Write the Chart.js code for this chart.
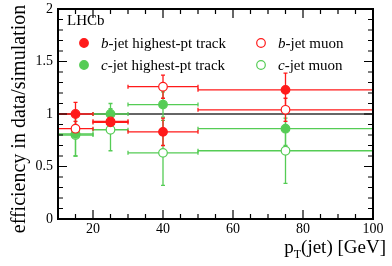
<!DOCTYPE html>
<html><head><meta charset="utf-8">
<script src="https://cdn.jsdelivr.net/npm/chart.js@4/dist/chart.umd.min.js"></script>
<style>html,body{margin:0;padding:0;background:#fff}#wrap{width:392px;height:266px}</style>
</head><body><div id="wrap"><canvas id="c" width="392" height="266"></canvas></div>
<script>
const xCenters = [15, 25, 40, 75];
const xLow = [10, 20, 30, 50];
const xHigh = [20, 30, 50, 100];
const bTrack = [1.00, 0.92, 0.83, 1.23];
const bTrackErr = [0.11, 0.03, 0.13, 0.16];
const cTrack = [0.81, 1.00, 1.09, 0.86];
const cTrackErr = [0.21, 0.10, 0.12, 0.16];
const bMuon = [0.86, 0.93, 1.26, 1.04];
const bMuonErr = [0.07, 0.05, 0.11, 0.11];
const cMuon = [0.80, 0.85, 0.63, 0.65];
const cMuonErr = [0.20, 0.20, 0.31, 0.31];
const yTicks = [0, 0.5, 1, 1.5, 2];
const yTickLabels = ['0', '0.5', '1', '1.5', '2'];
const xTicks = [20, 40, 60, 80, 100];
const xTickLabels = ['20', '40', '60', '80', '100'];

const RED = '#ff1a1a', GREEN = '#55cc55';
const SERIF = '"Liberation Serif","DejaVu Serif",serif';

function mk(label, vals, errs, color, filled, order) {
  return {
    label, errs, color,
    data: xCenters.map((x, i) => ({x, y: vals[i]})),
    pointRadius: 4.3, pointHoverRadius: 4.3,
    pointBackgroundColor: filled ? color : '#ffffff',
    pointBorderColor: color, pointBorderWidth: 1.2,
    showLine: false, order
  };
}
const datasets = [
  mk('cmu', cMuon, cMuonErr, GREEN, false, 4),
  mk('ctr', cTrack, cTrackErr, GREEN, true, 3),
  mk('bmu', bMuon, bMuonErr, RED, false, 2),
  mk('btr', bTrack, bTrackErr, RED, true, 1)
];

const plug = {
  id: 'deco',
  beforeDatasetsDraw(chart) {
    const ctx = chart.ctx, xs = chart.scales.x, ys = chart.scales.y;
    ctx.save();
    ctx.strokeStyle = '#333'; ctx.lineWidth = 1.4;
    ctx.beginPath(); ctx.moveTo(xs.left, ys.getPixelForValue(1)); ctx.lineTo(xs.right, ys.getPixelForValue(1)); ctx.stroke();
    chart.data.datasets.forEach(ds => {
      ctx.strokeStyle = ds.color; ctx.lineWidth = 1.3;
      ds.data.forEach((p, i) => {
        const px = xs.getPixelForValue(p.x), py = ys.getPixelForValue(p.y);
        const x1 = xs.getPixelForValue(xLow[i]), x2 = xs.getPixelForValue(xHigh[i]);
        const y1 = ys.getPixelForValue(p.y - ds.errs[i]), y2 = ys.getPixelForValue(p.y + ds.errs[i]);
        ctx.beginPath();
        ctx.moveTo(x1, py); ctx.lineTo(x2, py);
        ctx.moveTo(x1, py - 2); ctx.lineTo(x1, py + 2);
        ctx.moveTo(x2, py - 2); ctx.lineTo(x2, py + 2);
        ctx.moveTo(px, y1); ctx.lineTo(px, y2);
        ctx.moveTo(px - 2, y1); ctx.lineTo(px + 2, y1);
        ctx.moveTo(px - 2, y2); ctx.lineTo(px + 2, y2);
        ctx.stroke();
      });
    });
    ctx.restore();
  },
  afterDraw(chart) {
    const ctx = chart.ctx, xs = chart.scales.x, ys = chart.scales.y;
    const L = xs.left, R = xs.right, T = ys.top, B = ys.bottom;
    ctx.save();
    ctx.strokeStyle = '#000'; ctx.lineWidth = 1.2;
    ctx.beginPath();
    for (let v = 10; v <= 100; v += 5) {
      const px = xs.getPixelForValue(v);
      const len = (v % 20 === 0) ? 9 : 5;
      ctx.moveTo(px, B); ctx.lineTo(px, B - len);
      ctx.moveTo(px, T); ctx.lineTo(px, T + len);
    }
    for (let k = 0; k <= 20; k++) {
      const py = ys.getPixelForValue(k / 10);
      const len = (k % 5 === 0) ? 9 : 5;
      ctx.moveTo(L, py); ctx.lineTo(L + len, py);
      ctx.moveTo(R, py); ctx.lineTo(R - len, py);
    }
    ctx.stroke();
    ctx.lineWidth = 2;
    ctx.strokeRect(L, T, R - L, B - T);
    ctx.fillStyle = '#000';
    // tick labels
    ctx.font = '14px ' + SERIF;
    ctx.textAlign = 'right'; ctx.textBaseline = 'middle';
    yTicks.forEach((v, i) => ctx.fillText(yTickLabels[i], L - 5, ys.getPixelForValue(v)));
    ctx.textAlign = 'center'; ctx.textBaseline = 'top';
    xTicks.forEach((v, i) => ctx.fillText(xTickLabels[i], xs.getPixelForValue(v), B + 3));
    // Y title
    ctx.save();
    ctx.translate(25, 119);
    ctx.rotate(-Math.PI / 2);
    ctx.font = '20px ' + SERIF;
    ctx.textAlign = 'center'; ctx.textBaseline = 'alphabetic';
    ctx.fillText('efficiency in data/simulation', 0, 0);
    ctx.restore();
    // X title
    ctx.textBaseline = 'alphabetic'; ctx.textAlign = 'left';
    const part1 = 'p', part3 = '(jet) [GeV]';
    ctx.font = '19px ' + SERIF;
    const w1 = ctx.measureText(part1).width, w3 = ctx.measureText(part3).width;
    ctx.font = '12px ' + SERIF;
    const w2 = ctx.measureText('T').width;
    const x0 = 386 - (w1 + w2 + w3), by = 253;
    ctx.font = '19px ' + SERIF; ctx.fillText(part1, x0, by);
    ctx.font = '12px ' + SERIF; ctx.fillText('T', x0 + w1, by + 5);
    ctx.font = '19px ' + SERIF; ctx.fillText(part3, x0 + w1 + w2, by);
    // LHCb
    ctx.font = '15px ' + SERIF;
    ctx.fillText('LHCb', 67, 25);
    // legend
    const leg = [
      {x: 84, y: 43, c: RED, f: true, it: 'b', rest: '-jet highest-pt track'},
      {x: 84, y: 65, c: GREEN, f: true, it: 'c', rest: '-jet highest-pt track'},
      {x: 261, y: 43, c: RED, f: false, it: 'b', rest: '-jet muon'},
      {x: 261, y: 65, c: GREEN, f: false, it: 'c', rest: '-jet muon'}
    ];
    leg.forEach(e => {
      ctx.beginPath(); ctx.arc(e.x, e.y, 4.3, 0, Math.PI * 2);
      ctx.fillStyle = e.f ? e.c : '#fff'; ctx.fill();
      ctx.strokeStyle = e.c; ctx.lineWidth = 1.2; ctx.stroke();
      ctx.fillStyle = '#000';
      ctx.font = 'italic 15px ' + SERIF;
      const tx = e.x + 17;
      ctx.fillText(e.it, tx, e.y + 5);
      const wi = ctx.measureText(e.it).width;
      ctx.font = '15px ' + SERIF;
      ctx.fillText(e.rest, tx + wi, e.y + 5);
    });
    ctx.restore();
  }
};

new Chart(document.getElementById('c'), {
  type: 'scatter',
  data: {datasets},
  options: {
    responsive: false, animation: false,
    devicePixelRatio: 1,
    layout: {padding: {top: 9, right: 19, left: 0, bottom: 0}},
    plugins: {legend: {display: false}, tooltip: {enabled: false}},
    scales: {
      x: {
        type: 'linear', min: 10, max: 100,
        grid: {display: false}, border: {display: false},
        ticks: {display: false},
        afterFit: s => { s.height = 47; }
      },
      y: {
        type: 'linear', min: 0, max: 2,
        grid: {display: false}, border: {display: false},
        ticks: {display: false},
        afterFit: s => { s.width = 58; }
      }
    }
  },
  plugins: [plug]
});
</script></body></html>
